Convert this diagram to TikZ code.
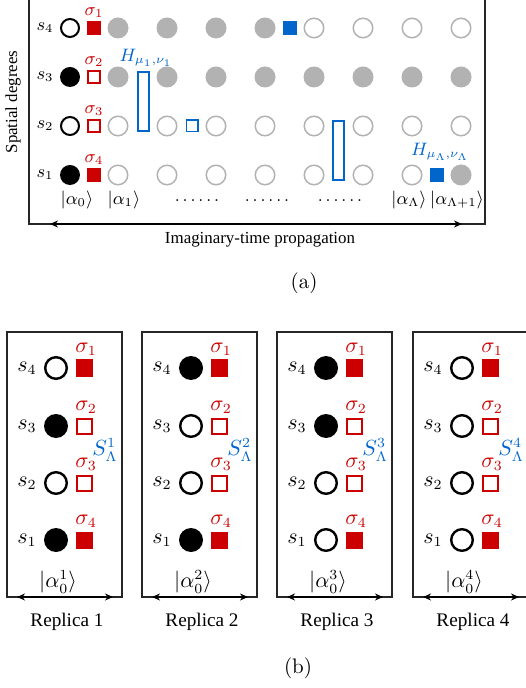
\documentclass[tikz,border=0pt]{standalone}
\usepackage{fontspec}
\newfontfamily\tms{Liberation Serif}
\usetikzlibrary{arrows.meta}
\definecolor{myred}{RGB}{204,0,0}
\definecolor{myblue}{RGB}{0,102,204}
\definecolor{mygray}{RGB}{178,178,178}
\begin{document}
\begin{tikzpicture}[x=0.5pt,y=-0.5pt,
  every node/.style={inner sep=0pt,outer sep=0pt},
  bopen/.style={circle,draw=black,line width=1pt,minimum size=9pt},
  bfull/.style={circle,fill=black,minimum size=10pt},
  gopen/.style={circle,draw=mygray,line width=0.75pt,minimum size=9.75pt},
  gfull/.style={circle,fill=mygray,minimum size=10.5pt},
  rfull/.style={rectangle,fill=myred,minimum size=7pt},
  ropen/.style={rectangle,draw=myred,line width=0.8pt,minimum size=6.2pt},
  bsq/.style={rectangle,fill=myblue,minimum size=7pt},
  bosq/.style={rectangle,draw=myblue,line width=0.8pt,minimum size=5.7pt},
  bbar/.style={rectangle,draw=myblue,line width=0.8pt,minimum width=5.7pt,minimum height=29.7pt},
  amath/.style={font=\fontsize{8.7}{10}\selectfont},
  bmath/.style={font=\fontsize{10.5}{12}\selectfont},
  bbo/.style={circle,draw=black,line width=1.2pt,minimum size=10.8pt},
  bbf/.style={circle,fill=black,minimum size=12pt},
  brf/.style={rectangle,fill=myred,minimum size=8.5pt},
  bro/.style={rectangle,draw=myred,line width=1pt,minimum size=7.5pt},
  txta/.style={font=\tms\fontsize{8.45}{10}\selectfont},
  txtb/.style={font=\tms\fontsize{9.6}{11}\selectfont},
  captxt/.style={font=\fontsize{10.5}{12}\selectfont},
  frame/.style={line width=0.75pt,draw=black!85},
  prop/.style={{Stealth[length=4pt,width=3.5pt]}-{Stealth[length=4pt,width=3.5pt]},line width=0.7pt}
]
\useasboundingbox (0,0) rectangle (525,688);

% ---------------- (a) ----------------
\coordinate (atl) at (29,-10);
\coordinate (abl) at (29,224);
\coordinate (abr) at (485,224);
\coordinate (atr) at (485,-10);
\draw[frame] (atl) -- (abl) -- (abr) -- (atr);
\coordinate (aL) at (50,224);
\coordinate (aR) at (462,224);
\draw[prop] (aL) -- (aR);

\node[txta,rotate=90] (spat) at (13,102) {Spatial degrees};
\node[txta] (itp) at (260,240) {Imaginary-time propagation};
\node[captxt] (capa) at (304,283) {(a)};

% row labels
\foreach \y/\r in {28/4,77/3,126/2,175/1}
  \node[amath] (s\r) at (45,\y) {$s_{\r}$};
% initial state column
\node[bopen] (c0-4) at (70,28) {};
\node[bfull] (c0-3) at (70,77) {};
\node[bopen] (c0-2) at (70,126) {};
\node[bfull] (c0-1) at (70,175) {};
% spin squares
\node[rfull] (q4) at (94,28) {};
\node[ropen] (q3) at (94,77) {};
\node[ropen] (q2) at (94,126) {};
\node[rfull] (q1) at (94,175) {};
\foreach \y/\i in {13/1,62/2,111/3,160/4}
  \node[amath,text=myred] (sig\i) at (94,\y) {$\sigma_{\i}$};

% gray columns
\foreach \x/\k in {118/1,167/2,216/3,265/4}
  \node[gfull] (g4-\k) at (\x,28) {};
\foreach \x/\k in {314/5,363/6,412/7,461/8}
  \node[gopen] (g4-\k) at (\x,28) {};
\foreach \x/\k in {118/1,167/2,216/3,265/4,314/5,363/6,412/7,461/8}
  \node[gfull] (g3-\k) at (\x,77) {};
\foreach \x/\k in {118/1,167/2,216/3,265/4,314/5,363/6,412/7,461/8}
  \node[gopen] (g2-\k) at (\x,126) {};
\foreach \x/\k in {118/1,167/2,216/3,265/4,314/5,363/6,412/7}
  \node[gopen] (g1-\k) at (\x,175) {};
\node[gfull] (g1-8) at (461,175) {};

% Hamiltonian terms
\node[bbar] (h1) at (143.5,101.5) {};
\node[bosq] (h2) at (192,126) {};
\node[bsq] (h3) at (290,28) {};
\node[bbar] (h4) at (338.5,150.5) {};
\node[bsq] (h5) at (437,175) {};
\node[amath,text=myblue] (Hl1) at (146,58) {$H_{\mu_1,\nu_1}$};
\node[amath,text=myblue] (HlL) at (440,152) {$H_{\mu_\Lambda,\nu_\Lambda}$};

% kets
\node[amath] (k0) at (77,200) {$|\alpha_0\rangle$};
\node[amath] (k1) at (124,200) {$|\alpha_1\rangle$};
\node[amath] (d1) at (197,201) {.\,.\,.\,.\,.\,.};
\node[amath] (d2) at (267,201) {.\,.\,.\,.\,.\,.};
\node[amath] (d3) at (340,201) {.\,.\,.\,.\,.\,.};
\node[amath] (kL) at (409,200) {$|\alpha_\Lambda\rangle$};
\node[amath] (kL1) at (457,200) {$|\alpha_{\Lambda+1}\rangle$};

% ---------------- (b) ----------------
\foreach \L/\k/\a/\b/\c/\d in {7/1/bbo/bbf/bbo/bbf,142/2/bbf/bbo/bbo/bbf,277/3/bbf/bbf/bbo/bbo,413/4/bbo/bbo/bbo/bbo}{
  \coordinate (bx\k-tl) at (\L,332);
  \coordinate (bx\k-br) at (\L+115,597);
  \draw[frame] (bx\k-tl) rectangle (bx\k-br);
  \coordinate (ar\k-l) at (\L+10,597);
  \coordinate (ar\k-r) at (\L+106,597);
  \draw[prop] (ar\k-l) -- (ar\k-r);
  \node[bmath] (r\k-s4) at (\L+20,368) {$s_4$};
  \node[bmath] (r\k-s3) at (\L+20,426) {$s_3$};
  \node[bmath] (r\k-s2) at (\L+20,483) {$s_2$};
  \node[bmath] (r\k-s1) at (\L+20,540) {$s_1$};
  \node[\a] (r\k-c4) at (\L+49,368) {};
  \node[\b] (r\k-c3) at (\L+49,426) {};
  \node[\c] (r\k-c2) at (\L+49,483) {};
  \node[\d] (r\k-c1) at (\L+49,540) {};
  \node[brf] (r\k-q4) at (\L+77,368) {};
  \node[bro] (r\k-q3) at (\L+77,426) {};
  \node[bro] (r\k-q2) at (\L+77,483) {};
  \node[brf] (r\k-q1) at (\L+77,540) {};
  \node[bmath,text=myred] (r\k-g1) at (\L+79,349) {$\sigma_1$};
  \node[bmath,text=myred] (r\k-g2) at (\L+79,407) {$\sigma_2$};
  \node[bmath,text=myred] (r\k-g3) at (\L+79,464) {$\sigma_3$};
  \node[bmath,text=myred] (r\k-g4) at (\L+79,521) {$\sigma_4$};
  \node[bmath,text=myblue] (r\k-S) at (\L+98,450) {$S_\Lambda^{\k}$};
  \node[bmath] (r\k-ket) at (\L+51,582) {$|\alpha_0^{\k}\rangle$};
  \node[txtb] (r\k-lab) at (\L+60,622) {Replica \k};
}
\node[captxt] (capb) at (298,668) {(b)};
\end{tikzpicture}
\end{document}
